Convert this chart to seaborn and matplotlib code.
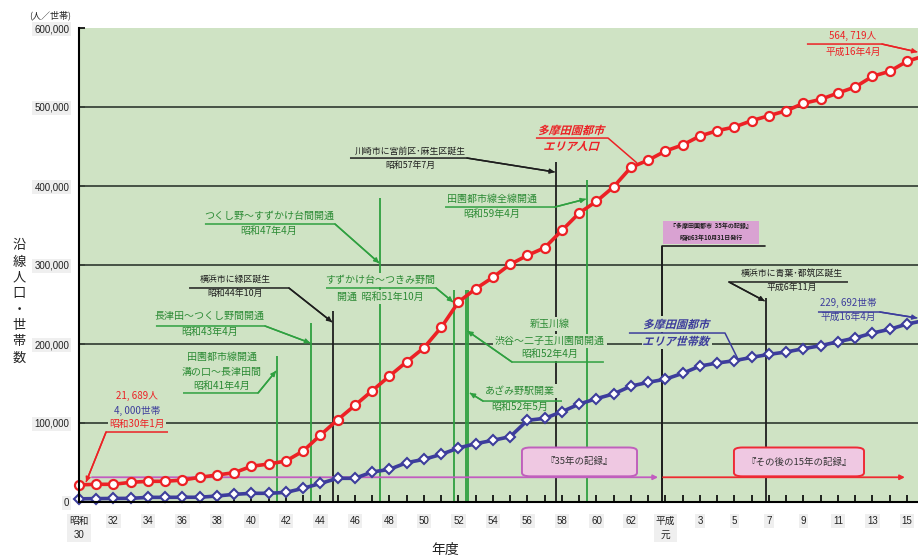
import matplotlib
matplotlib.use("Agg")
import matplotlib.pyplot as plt
from matplotlib.patches import FancyBboxPatch, Rectangle, PathPatch
from matplotlib.textpath import TextPath
from matplotlib.font_manager import FontProperties
from matplotlib.transforms import Affine2D
import seaborn as sns
import pandas as pd

sns.set_theme(style="white")
JP = ["Noto Sans CJK JP", "DejaVu Sans"]
NUM = ["Liberation Sans", "Noto Sans CJK JP"]
plt.rcParams["font.family"] = JP

# position 0 = 昭和30年度, one step per fiscal year up to 平成16年度
fiscal_index = list(range(50))
population = [21689, 22400, 22400, 24900, 26200, 26200, 27800, 31200, 34200, 37100,
              45200, 48100, 51900, 64600, 84800, 104200, 122400, 140900, 159500, 177600,
              195300, 221000, 253200, 270000, 284400, 300900, 312200, 321900, 343900, 365800,
              380600, 399100, 423600, 432700, 444300, 452000, 463300, 470000, 474700, 482700,
              489000, 495300, 504600, 509700, 517700, 525300, 538800, 545200, 557800, 564719]
households = [4000, 4300, 4500, 4600, 5900, 5900, 6000, 6000, 7600, 9700,
              11000, 11000, 12200, 17300, 23600, 30000, 30000, 38000, 41300, 49800,
              54000, 60300, 68400, 73800, 78100, 82700, 103400, 105900, 114300, 124000,
              130800, 136900, 146700, 151500, 155500, 162900, 172100, 175900, 178900, 183100,
              186900, 189900, 194100, 197900, 202900, 207600, 213900, 218600, 225300, 229692]

tick_positions = list(range(0, 49, 2))
tick_labels = ["昭和\n30", "32", "34", "36", "38", "40", "42", "44", "46", "48", "50",
               "52", "54", "56", "58", "60", "62", "平成\n元", "3", "5", "7", "9",
               "11", "13", "15"]
y_ticks = [0, 100000, 200000, 300000, 400000, 500000, 600000]

# railway openings / ward creations, in fiscal-year position units
event_x = [11.48, 13.45, 14.72, 17.45, 21.74, 22.43, 22.58, 27.65, 29.45, 33.80, 39.83]
event_top = [184800, 226600, 241800, 384800, 268300, 268300, 268300, 430400, 407600, 324000, 258200]
event_kind = ["rail", "rail", "ward", "rail", "rail", "rail", "rail", "ward", "rail", "book", "ward"]

BG = "#cfe3c4"
RED = "#ec2125"
BLUE = "#3d3d9c"
GREEN_LINE = "#2fa040"
GREEN_TXT = "#2b8a34"
BLACK = "#1e1e1e"
GRID = "#3b463b"

fig = plt.figure(figsize=(9.18, 5.57), dpi=100)
ax = fig.add_axes([79 / 918, 1 - 502 / 557, 839 / 918, 474 / 557])
ax.set_facecolor(BG)
ax.set_xlim(0, 48.64)
ax.set_ylim(0, 600000)
ax.set_autoscale_on(False)

for v in y_ticks[1:-1]:
    ax.axhline(v, color=GRID, lw=1.3, zorder=0.8)

for x, top, kind in zip(event_x, event_top, event_kind):
    c = GREEN_LINE if kind == "rail" else BLACK
    ax.plot([x, x], [0, top], color=c, lw=1.3, zorder=2, solid_capstyle="butt")

df = pd.DataFrame({"年度": fiscal_index, "人口": population, "世帯数": households})
sns.lineplot(data=df, x="年度", y="人口", ax=ax, color=RED, lw=2.6, marker="o",
             markersize=6.5, markerfacecolor="white", markeredgecolor=RED,
             markeredgewidth=1.6, zorder=6, clip_on=False)
sns.lineplot(data=df, x="年度", y="世帯数", ax=ax, color=BLUE, lw=2.6, marker="D",
             markersize=5.2, markerfacecolor="white", markeredgecolor=BLUE,
             markeredgewidth=1.5, zorder=6, clip_on=False)
ax.set_xlabel("")
ax.set_ylabel("")


def label(x, y, s, color, size, weight="normal"):
    ax.text(x, y, s, color=color, fontsize=size, ha="center", va="center",
            fontweight=weight, zorder=3,
            bbox=dict(fc=BG, ec="none", pad=1.2))


def leader(path, color, arrow=True):
    xs, ys = zip(*path)
    ax.plot(xs, ys, color=color, lw=1.1, zorder=4, clip_on=False,
            solid_capstyle="butt")
    if arrow:
        ax.annotate("", xy=path[-1], xytext=path[-2], annotation_clip=False,
                    arrowprops=dict(arrowstyle="-|>", color=color, lw=1.1,
                                    mutation_scale=7, shrinkA=0, shrinkB=0),
                    zorder=4)


def slanted(x, y, s, color, size):
    fp = FontProperties(family="Noto Sans CJK JP", weight="bold", size=size)
    ax.text(x, y, s, fontproperties=fp, color="none", ha="center", va="center",
            zorder=3, bbox=dict(fc=BG, ec="none", pad=1.2))
    tp = TextPath((0, 0), s, prop=fp, size=size)
    ext = tp.get_extents()
    cx, cy = (ext.x0 + ext.x1) / 2, (ext.y0 + ext.y1) / 2
    X, Y = ax.transData.transform((x, y))
    tr = (Affine2D().translate(-cx, -cy).skew_deg(16, 0)
          .scale(fig.dpi / 72).translate(X, Y))
    ax.add_patch(PathPatch(tp, transform=tr, fc=color, ec="none", zorder=4))


GFS = 7.2
BFS = 6.4

# 田園都市線開通
label(8.29, 183500, "田園都市線開通", GREEN_TXT, GFS)
label(8.29, 164600, "溝の口～長津田間", GREEN_TXT, GFS)
label(8.29, 147500, "昭和41年4月", GREEN_TXT, GFS)
leader([(6.03, 138000), (10.38, 138000), (11.42, 165800)], GREEN_LINE)

# 長津田～つくし野
label(7.59, 235400, "長津田～つくし野間開通", GREEN_TXT, GFS)
label(7.59, 215200, "昭和43年4月", GREEN_TXT, GFS)
leader([(4.46, 222800), (10.78, 222800), (13.40, 201300)], GREEN_LINE)

# 緑区
label(9.04, 282300, "横浜市に緑区誕生", BLACK, BFS)
label(9.04, 264600, "昭和44年10月", BLACK, BFS)
leader([(6.38, 270900), (12.17, 270900), (14.67, 227800)], BLACK)

# つくし野～すずかけ台
label(11.01, 362000, "つくし野～すずかけ台間開通", GREEN_TXT, GFS)
label(11.01, 343000, "昭和47年4月", GREEN_TXT, GFS)
leader([(7.30, 351900), (14.84, 351900), (17.40, 302500)], GREEN_LINE)

# すずかけ台～つきみ野
label(17.45, 281000, "すずかけ台～つきみ野間", GREEN_TXT, GFS)
label(17.45, 259500, "開通  昭和51年10月", GREEN_TXT, GFS)
leader([(14.32, 270900), (20.70, 270900), (21.68, 253200)], GREEN_LINE)

# 新玉川線
label(27.30, 225300, "新玉川線", GREEN_TXT, GFS)
label(27.30, 203800, "渋谷～二子玉川園間開通", GREEN_TXT, GFS)
label(27.30, 187300, "昭和52年4月", GREEN_TXT, GFS)
leader([(30.43, 177200), (25.10, 177200), (22.52, 216500)], GREEN_LINE)

# あざみ野駅
label(25.57, 140500, "あざみ野駅開業", GREEN_TXT, GFS)
label(25.57, 120300, "昭和52年5月", GREEN_TXT, GFS)
leader([(28.0, 127800), (23.42, 127800), (22.66, 138000)], GREEN_LINE)

# 宮前区・麻生区
label(19.19, 444300, "川崎市に宮前区･麻生区誕生", BLACK, BFS)
label(19.19, 426600, "昭和57年7月", BLACK, BFS)
leader([(15.71, 435400), (22.49, 435400), (27.58, 417700)], BLACK)

# 全線開通
label(23.94, 383500, "田園都市線全線開通", GREEN_TXT, GFS)
label(23.94, 364500, "昭和59年4月", GREEN_TXT, GFS)
leader([(21.22, 373400), (27.59, 373400), (29.38, 383500)], GREEN_LINE)

# 青葉区・都筑区
label(41.33, 289900, "横浜市に青葉･都筑区誕生", BLACK, BFS)
label(41.33, 272200, "平成6年11月", BLACK, BFS)
leader([(44.58, 278500), (37.68, 278500), (39.75, 254400)], BLACK)

# series titles
slanted(28.58, 470900, "多摩田園都市", RED, 8)
slanted(28.58, 450600, "エリア人口", RED, 8)
leader([(26.49, 460700), (30.67, 460700), (32.35, 429100)], RED, arrow=False)

slanted(34.67, 225300, "多摩田園都市", BLUE, 8)
slanted(34.67, 203800, "エリア世帯数", BLUE, 8)
leader([(31.88, 213900), (37.45, 213900), (38.20, 181000)], BLUE, arrow=False)

# end values
label(44.87, 589900, f"{population[-1]:,}人".replace(",", ", "), RED, 7)
label(44.87, 569600, "平成16年4月", RED, 7)
leader([(42.2, 579700), (46.55, 579700), (48.6, 569600)], RED)

label(44.58, 251900, f"{households[-1]:,}世帯".replace(",", ", "), BLUE, 7)
label(44.58, 234200, "平成16年4月", BLUE, 7)
leader([(42.84, 240500), (46.43, 240500), (48.6, 232900)], BLUE)

# start values
label(3.36, 134200, f"{population[0]:,}人".replace(",", ", "), RED, 7)
label(3.36, 115200, f"{households[0]:,}世帯".replace(",", ", "), BLUE, 7)
label(3.36, 98700, "昭和30年1月", RED, 7)
leader([(5.16, 88600), (1.57, 88600), (0.41, 25300)], RED)

# publication note box
ax.add_patch(Rectangle((33.86, 326600), 5.56, 29100, fc="#d9a2d2", ec="none", zorder=3))
ax.text(36.64, 349400, "『多摩田園都市  35年の記録』", fontsize=4.3, fontweight="bold",
        color=BLACK, ha="center", va="center", zorder=4)
ax.text(36.64, 334600, "昭和63年10月31日発行", fontsize=4.3, fontweight="bold",
        color=BLACK, ha="center", va="center", zorder=4)
ax.plot([39.77, 33.80, 33.80], [324000, 324000, 0], color=BLACK, lw=1.2, zorder=2)

# period arrows and boxes
ax.annotate("", xy=(33.57, 31300), xytext=(0.75, 31300),
            arrowprops=dict(arrowstyle="-|>", color="#c25cc0", lw=1.3,
                            mutation_scale=7, shrinkA=0, shrinkB=0), zorder=4)
ax.annotate("", xy=(47.88, 31300), xytext=(33.86, 31300),
            arrowprops=dict(arrowstyle="-|>", color="#ee2a30", lw=1.3,
                            mutation_scale=7, shrinkA=0, shrinkB=0), zorder=4)
for x0, x1, ec, s in [(25.68, 32.35, "#c060bc", "『35年の記録』"),
                      (37.97, 45.51, "#ee2a36", "『その後の15年の記録』")]:
    ax.add_patch(FancyBboxPatch((x0, 32500), x1 - x0, 36500,
                                boxstyle="round,pad=0,rounding_size=0.5",
                                mutation_aspect=9000, fc="#efc8e2", ec=ec, lw=1.4,
                                zorder=5))
    ax.text((x0 + x1) / 2, 50700, s, fontsize=6.8, color="#333333", ha="center",
            va="center", zorder=6)

# axes styling
for side in ["top", "right"]:
    ax.spines[side].set_visible(False)
for side in ["left", "bottom"]:
    ax.spines[side].set_color("black")
    ax.spines[side].set_linewidth(1.5)
    ax.spines[side].set_zorder(7)

ax.set_xticks(tick_positions)
ax.set_xticklabels(tick_labels, linespacing=1.55)
ax.set_xticks([i for i in range(49) if i % 2 == 1], minor=True)
ax.set_yticks(y_ticks)
ax.set_yticklabels([f"{v:,}" for v in y_ticks])
ax.tick_params(axis="x", which="both", direction="in", length=5, width=1.2,
               color="black", pad=10, labelsize=7, bottom=True)
ax.tick_params(axis="y", direction="in", length=4, width=1.2, color="black",
               pad=7, labelsize=7, left=True)
for t in ax.get_xticklabels() + ax.get_yticklabels():
    t.set_fontfamily(NUM)
    t.set_color("#222222")
    t.set_bbox(dict(fc="#efefef", ec="none", pad=1.5))

ax.set_xlim(0, 48.64)
ax.set_ylim(0, 600000)

fig.text(50 / 918, 1 - 15 / 557, "(人／世帯)", fontsize=6.5, ha="center", va="center",
         color="#222222")
fig.text(19 / 918, 1 - 302 / 557, "沿\n線\n人\n口\n・\n世\n帯\n数", fontsize=9.5,
         ha="center", va="center", linespacing=1.3, color="#222222")
fig.text(445 / 918, 1 - 550 / 557, "年度", fontsize=10, ha="center", va="center",
         color="#222222")

fig.savefig("out.png", dpi=100)
